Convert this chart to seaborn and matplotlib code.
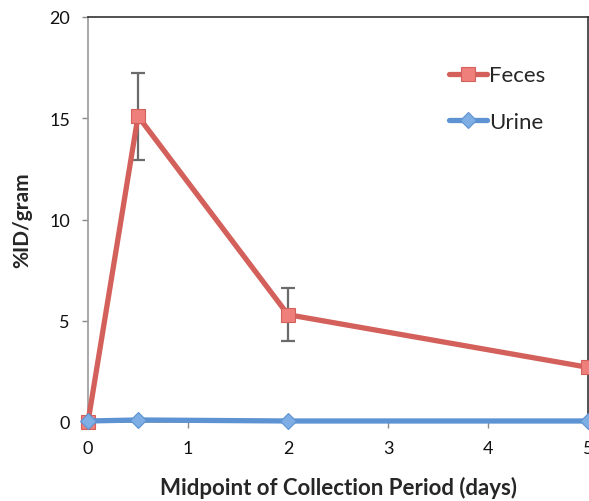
import matplotlib
matplotlib.use("Agg")
import matplotlib.pyplot as plt
import seaborn as sns
import pandas as pd

days = [0, 0.5, 2, 5]
feces = [0.0, 15.1, 5.3, 2.7]
feces_err = [0.0, 2.15, 1.3, 0.0]
urine = [0.05, 0.1, 0.05, 0.05]
series_names = ["Feces", "Urine"]
xticks = [0, 1, 2, 3, 4, 5]
yticks = [0, 5, 10, 15, 20]

df = pd.DataFrame({
    "day": days * 2,
    "value": feces + urine,
    "series": [series_names[0]] * len(days) + [series_names[1]] * len(days),
})

sns.set_style("white")
plt.rcParams["font.family"] = ["Lato", "DejaVu Sans"]

fig = plt.figure(figsize=(5.89, 5.02), dpi=100)
ax = fig.add_axes([88 / 589, 79 / 502, 500 / 589, 405 / 502])

red_line = "#d4605b"
red_face = "#ee7f7a"
blue_line = "#5d93d2"
blue_face = "#7eaee3"

ax.errorbar(days, feces, yerr=feces_err, fmt="none", ecolor="#6b6b6b",
            elinewidth=1.6, capsize=5, capthick=1.6, zorder=2)

sns.lineplot(data=df, x="day", y="value", hue="series", style="series",
             palette={"Feces": red_line, "Urine": blue_line},
             markers={"Feces": "s", "Urine": "D"}, dashes=False,
             linewidth=3.8, markersize=10, ax=ax, zorder=3,
             markeredgewidth=0.8, clip_on=False)

for line in ax.get_lines():
    c = line.get_color()
    if c == red_line:
        line.set_markerfacecolor(red_face)
        line.set_markeredgecolor(red_line)
        line.set_zorder(3)
    elif c == blue_line:
        line.set_markerfacecolor(blue_face)
        line.set_markeredgecolor(blue_line)
        line.set_markersize(8)
        line.set_zorder(4)

ax.set_xlim(0, 5)
ax.set_ylim(0, 20)
ax.set_xticks(xticks)
ax.set_yticks(yticks)
ax.tick_params(axis="both", which="major", direction="out", length=4,
               width=1, color="#8a8a8a", labelsize=13, pad=9,
               bottom=True, left=True)
for lab in ax.get_xticklabels() + ax.get_yticklabels():
    lab.set_color("#111111")

for s in ["left", "bottom"]:
    ax.spines[s].set_color("#9a9a9a")
    ax.spines[s].set_linewidth(1.2)
for s in ["top", "right"]:
    ax.spines[s].set_color("#333333")
    ax.spines[s].set_linewidth(1.2)

ax.set_xlabel("Midpoint of Collection Period (days)", fontsize=16,
              fontweight="bold", labelpad=14)
ax.set_ylabel("%ID/gram", fontsize=15, fontweight="bold", labelpad=12)

handles, labels = ax.get_legend_handles_labels()
leg = ax.legend(handles, labels, loc="upper right", bbox_to_anchor=(0.955, 0.93),
                frameon=False, fontsize=16, handlelength=1.7,
                handletextpad=0.1, labelspacing=1.2)
for h in leg.legend_handles:
    h.set_linewidth(3.8)

fig.savefig("out.png", dpi=100)
